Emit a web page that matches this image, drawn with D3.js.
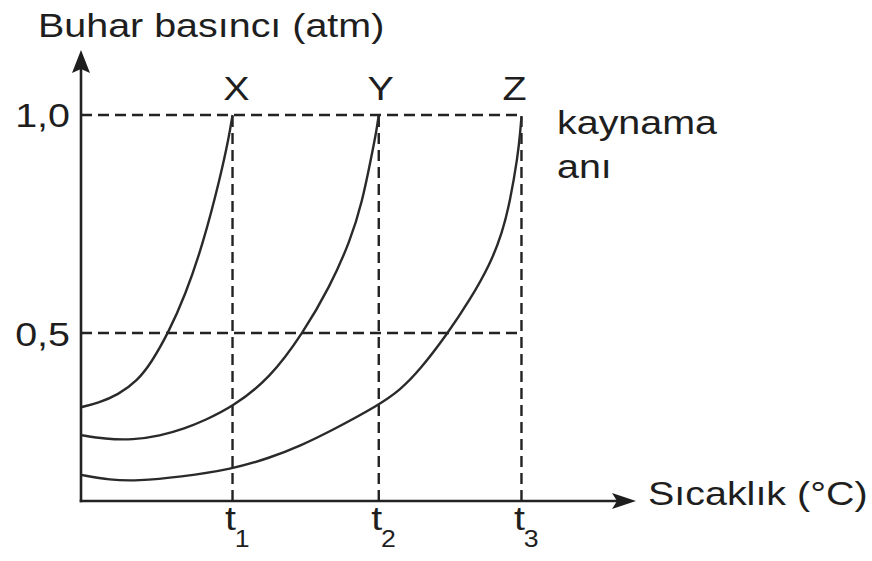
<!DOCTYPE html>
<html lang="tr">
<head>
    <meta charset="UTF-8">
    <title>Buhar basıncı</title>
    <script src="https://cdnjs.cloudflare.com/ajax/libs/d3/7.8.5/d3.min.js"></script>
    <style>
        body {
            margin: 0;
            background: #fff;
        }

        svg text {
            font-family: "Liberation Sans", Arial, sans-serif;
            fill: #1e1e1e;
        }

        .axis-line {
            stroke: #222;
            stroke-width: 2.6;
            fill: none;
        }

        .guide {
            stroke: #222;
            stroke-width: 2.4;
            stroke-dasharray: 11 6;
            fill: none;
        }

        .curve {
            stroke: #2a2a2a;
            stroke-width: 2.4;
            fill: none;
        }
    </style>
</head>
<body>
    <div id="wrapper"></div>
    <script>
        // veriler (resimden okunmuş tahmini değerler)
        const seriesNames = ['X', 'Y', 'Z']
        const pressureTicks = [0.5, 1.0]
        const tempTicks = [34.4, 67.6, 100]      // t1, t2, t3
        const tempTickSubs = ['1', '2', '3']

        // [sıcaklık, buhar basıncı]
        const curveX = [
            [0, 0.330], [3.9, 0.340], [8.4, 0.358], [12.9, 0.392], [15.9, 0.431],
            [19.8, 0.5], [23.6, 0.585], [27.7, 0.704], [31.6, 0.856], [33.6, 0.95], [34.4, 1.0]
        ]
        const curveY = [
            [0, 0.266], [5.4, 0.257], [11.8, 0.255], [17.9, 0.264], [23.6, 0.281],
            [28.1, 0.300], [34.3, 0.330], [42.9, 0.396], [50.4, 0.5], [56.5, 0.606],
            [61.1, 0.711], [63.8, 0.798], [66.1, 0.913], [67.1, 0.965], [67.6, 1.0]
        ]
        const curveZ = [
            [0, 0.175], [6.6, 0.163], [12.7, 0.161], [22.5, 0.170], [34.3, 0.188],
            [42.9, 0.214], [49.7, 0.241], [57.2, 0.278], [67.6, 0.335], [72.4, 0.369],
            [76.9, 0.415], [83.3, 0.5], [88.3, 0.576], [92.9, 0.658], [95.6, 0.729],
            [97.4, 0.801], [99.2, 0.908], [99.7, 0.96], [100, 0.995]
        ]
        const curves = [curveX, curveY, curveZ]

        const width = 872
        const height = 561
        const stretch = 1.16   // yazılar resimde yatay olarak biraz geniş

        const svg = d3.select('#wrapper')
            .append('svg')
                .attr('width', width)
                .attr('height', height)

        const xScale = d3.scaleLinear()
            .domain([0, 126])
            .range([81, 636])

        const yScale = d3.scaleLinear()
            .domain([0.115, 1.149])
            .range([501, 50])

        const x0 = xScale(0)
        const y0 = yScale.range()[0]

        function addText(x, y, str, anchor, size) {
            return svg.append('text')
                .attr('transform', `translate(${x},${y}) scale(${stretch},1)`)
                .style('text-anchor', anchor || 'start')
                .style('font-size', (size || 34) + 'px')
                .text(str)
        }

        // kesikli yardımcı çizgiler
        const tMax = d3.max(tempTicks)
        pressureTicks.forEach(p => {
            svg.append('line')
                .attr('class', 'guide')
                .attr('x1', x0)
                .attr('x2', xScale(tMax))
                .attr('y1', yScale(p))
                .attr('y2', yScale(p))
        })
        tempTicks.forEach(t => {
            svg.append('line')
                .attr('class', 'guide')
                .attr('x1', xScale(t))
                .attr('x2', xScale(t))
                .attr('y1', y0)
                .attr('y2', yScale(1.0))
        })

        // eğriler
        const lineGenerator = d3.line()
            .x(d => xScale(d[0]))
            .y(d => yScale(d[1]))
            .curve(d3.curveBasis)

        svg.selectAll('.curve')
            .data(curves)
            .join('path')
                .attr('class', 'curve')
                .attr('d', lineGenerator)

        // eksen çizgileri ve oklar
        const yTop = yScale.range()[1]
        const xEnd = xScale.range()[1]
        svg.append('line')
            .attr('class', 'axis-line')
            .attr('x1', x0).attr('x2', x0)
            .attr('y1', y0 + 1.3).attr('y2', yTop + 10)
        svg.append('line')
            .attr('class', 'axis-line')
            .attr('x1', x0 - 1.3).attr('x2', xEnd - 10)
            .attr('y1', y0).attr('y2', y0)

        svg.append('path')
            .attr('d', `M${x0},${yTop} L${x0 + 9},${yTop + 23} L${x0},${yTop + 19} L${x0 - 9},${yTop + 23} Z`)
            .attr('fill', '#1e1e1e')
        svg.append('path')
            .attr('d', `M${xEnd},${y0} L${xEnd - 24},${y0 + 8} L${xEnd - 19},${y0} L${xEnd - 24},${y0 - 8} Z`)
            .attr('fill', '#1e1e1e')

        // y ekseni etiketleri
        const trFormat = d3.formatLocale({ decimal: ',', thousands: '.', grouping: [3], currency: ['', ' TL'] }).format('.1f')
        const yAxis = svg.append('g')
            .attr('transform', `translate(${x0},0)`)
            .call(d3.axisLeft(yScale)
                .tickValues(pressureTicks)
                .tickFormat(trFormat)
                .tickSize(0)
                .tickPadding(11))
        yAxis.select('.domain').remove()
        yAxis.selectAll('text')
            .attr('x', null)
            .attr('dy', null)
            .attr('transform', `translate(-11,12) scale(${stretch},1)`)
            .style('font-size', '34px')
            .attr('fill', '#1e1e1e')

        // x ekseni etiketleri (t1, t2, t3)
        const xAxis = svg.append('g')
            .attr('transform', `translate(0,${y0})`)
            .call(d3.axisBottom(xScale)
                .tickValues(tempTicks)
                .tickSize(0)
                .tickFormat(''))
        xAxis.select('.domain').remove()
        xAxis.selectAll('.tick text')
            .attr('y', null)
            .attr('dy', null)
            .attr('transform', `translate(-8,29) scale(${stretch},1)`)
            .style('text-anchor', 'start')
            .style('font-size', '34px')
            .attr('fill', '#1e1e1e')
            .each(function (d, i) {
                const el = d3.select(this)
                el.append('tspan').text('t')
                el.append('tspan')
                    .attr('dx', -1)
                    .attr('dy', 17)
                    .style('font-size', '23px')
                    .text(tempTickSubs[i])
            })

        // eğri adları
        const nameOffsets = [4, 2, -7]
        seriesNames.forEach((name, i) => {
            addText(xScale(tempTicks[i]) + nameOffsets[i], yScale(1.0) - 15, name, 'middle')
        })

        // başlıklar
        addText(38, 37, 'Buhar basıncı (atm)')
        addText(648, y0 + 4, 'Sıcaklık (°C)')
        addText(557, 134, 'kaynama')
        addText(557, 178, 'anı')
    </script>
</body>
</html>
